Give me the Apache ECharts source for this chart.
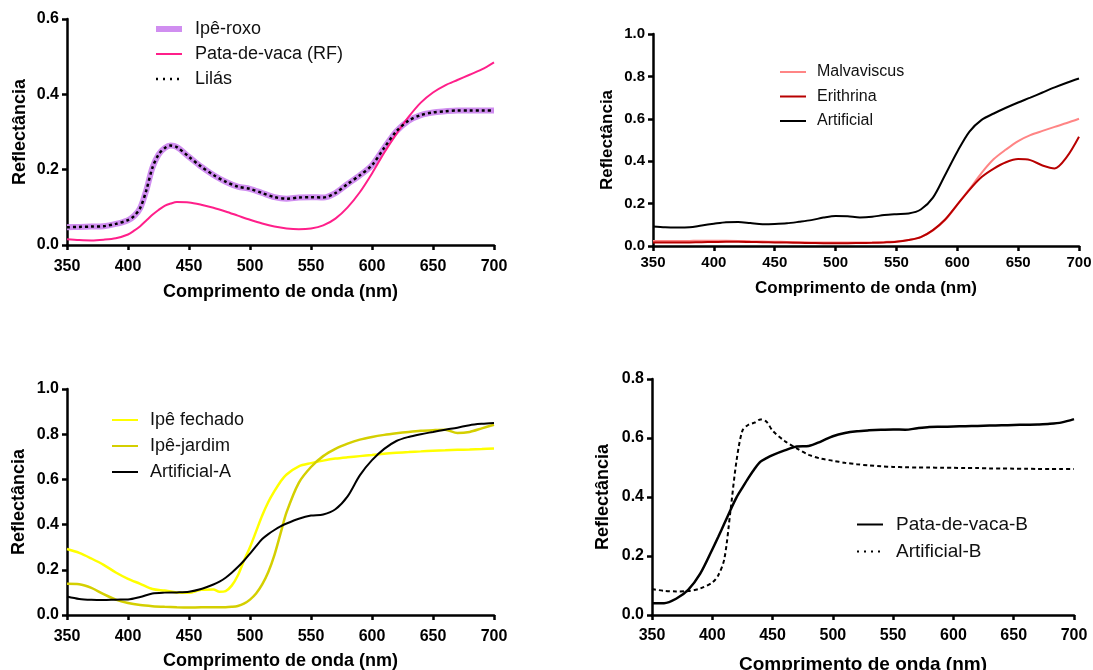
<!DOCTYPE html>
<html><head><meta charset="utf-8">
<script src="https://cdn.jsdelivr.net/npm/echarts@6/dist/echarts.min.js"></script>
<style>html,body{margin:0;padding:0;background:#fff}#c{width:1093px;height:670px}</style>
</head><body><div id="c"></div>
<script>
// ---------- Panel 1 ----------
const wl1 = [350,360,370,380,390,400,405,410,415,420,425,430,435,440,450,460,470,480,490,500,510,520,530,540,550,560,570,580,590,600,610,620,630,640,650,660,670,680,690,700];
const ipeRoxo = [0.047,0.048,0.049,0.050,0.056,0.066,0.077,0.098,0.145,0.205,0.240,0.257,0.264,0.260,0.234,0.208,0.186,0.168,0.155,0.149,0.138,0.127,0.123,0.126,0.127,0.126,0.138,0.162,0.185,0.212,0.258,0.302,0.330,0.345,0.352,0.355,0.357,0.357,0.357,0.357];
const lilas = [0.047,0.048,0.049,0.050,0.056,0.066,0.077,0.098,0.145,0.205,0.240,0.257,0.264,0.260,0.234,0.208,0.186,0.168,0.155,0.149,0.138,0.127,0.123,0.126,0.127,0.126,0.138,0.162,0.185,0.212,0.258,0.302,0.330,0.345,0.352,0.355,0.357,0.357,0.357,0.357];
const pataRF = [0.015,0.013,0.012,0.014,0.018,0.028,0.038,0.050,0.065,0.080,0.093,0.104,0.110,0.114,0.113,0.107,0.099,0.089,0.078,0.067,0.057,0.049,0.044,0.042,0.044,0.052,0.070,0.100,0.140,0.190,0.245,0.295,0.340,0.378,0.405,0.424,0.438,0.452,0.466,0.485];
// ---------- Panel 2 ----------
const wl2 = [350,360,370,380,390,400,410,420,430,440,450,460,470,480,490,500,510,520,530,540,550,560,570,580,590,600,610,620,630,640,650,660,670,680,690,700];
const malvaviscus = [0.024,0.023,0.023,0.024,0.025,0.025,0.025,0.024,0.022,0.021,0.020,0.019,0.018,0.017,0.016,0.016,0.016,0.016,0.017,0.019,0.021,0.028,0.042,0.074,0.122,0.195,0.268,0.345,0.410,0.455,0.495,0.523,0.543,0.562,0.580,0.600];
const erithrina = [0.016,0.016,0.016,0.017,0.018,0.019,0.020,0.020,0.019,0.018,0.017,0.016,0.015,0.014,0.013,0.013,0.013,0.014,0.015,0.017,0.020,0.028,0.042,0.075,0.125,0.195,0.265,0.325,0.365,0.395,0.410,0.405,0.380,0.366,0.420,0.515];
const artificial = [0.092,0.088,0.087,0.088,0.097,0.105,0.112,0.113,0.108,0.103,0.104,0.107,0.114,0.122,0.134,0.142,0.140,0.135,0.138,0.146,0.150,0.153,0.172,0.228,0.335,0.445,0.540,0.595,0.625,0.652,0.677,0.700,0.724,0.748,0.770,0.790];
// ---------- Panel 3 ----------
const wl3 = [350,360,370,380,390,400,410,420,430,440,450,460,470,475,480,485,490,495,500,505,510,515,520,525,530,540,550,560,570,580,590,600,610,620,630,640,650,660,670,680,690,700];
const ipeFechado = [0.292,0.275,0.250,0.222,0.188,0.160,0.138,0.115,0.108,0.100,0.098,0.112,0.113,0.103,0.106,0.130,0.175,0.240,0.300,0.370,0.440,0.500,0.548,0.590,0.622,0.658,0.672,0.683,0.692,0.698,0.703,0.708,0.714,0.718,0.721,0.724,0.727,0.729,0.731,0.732,0.734,0.737];
const ipeJardim = [0.138,0.136,0.120,0.092,0.068,0.053,0.044,0.039,0.036,0.034,0.033,0.034,0.034,0.034,0.034,0.036,0.040,0.050,0.068,0.095,0.135,0.190,0.265,0.360,0.455,0.585,0.655,0.703,0.735,0.758,0.776,0.788,0.797,0.804,0.810,0.815,0.818,0.820,0.805,0.810,0.826,0.842];
const artificialA = [0.082,0.071,0.067,0.066,0.068,0.069,0.080,0.095,0.099,0.100,0.103,0.115,0.135,0.148,0.165,0.187,0.212,0.240,0.272,0.305,0.336,0.358,0.376,0.392,0.405,0.426,0.440,0.445,0.468,0.525,0.618,0.685,0.735,0.770,0.788,0.800,0.810,0.820,0.829,0.840,0.846,0.850];
// ---------- Panel 4 ----------
const wl4 = [350,360,370,380,390,400,405,410,415,420,425,430,435,440,445,450,460,470,480,490,500,510,520,530,540,550,560,570,580,590,600,610,620,630,640,650,660,670,680,690,700];
const pataB = [0.040,0.040,0.055,0.085,0.140,0.222,0.265,0.310,0.355,0.398,0.432,0.465,0.495,0.520,0.532,0.542,0.558,0.571,0.573,0.588,0.606,0.617,0.623,0.626,0.628,0.629,0.628,0.633,0.637,0.638,0.639,0.640,0.641,0.642,0.643,0.644,0.645,0.646,0.648,0.653,0.664];
const artificialB = [0.088,0.082,0.080,0.081,0.090,0.110,0.135,0.190,0.350,0.520,0.625,0.645,0.652,0.663,0.655,0.625,0.590,0.565,0.543,0.530,0.523,0.516,0.511,0.507,0.504,0.502,0.501,0.500,0.500,0.499,0.499,0.498,0.498,0.497,0.497,0.496,0.496,0.495,0.495,0.495,0.495];

const xTicks = {min:350, max:700, interval:50};
const FF = '"Liberation Sans", Arial, sans-serif';

function pairs(xs, ys){ return xs.map((x,i)=>[x, ys[i]]); }

function xAx(gi, tickSize, nameSize, gap, margin){
  return {gridIndex:gi, type:'value', min:xTicks.min, max:xTicks.max, interval:xTicks.interval,
    name:'Comprimento de onda (nm)', nameLocation:'middle', nameGap:gap,
    nameTextStyle:{fontFamily:FF, fontWeight:'bold', fontSize:nameSize, color:'#000'},
    axisLine:{show:true, onZero:false, lineStyle:{color:'#000', width:2.5}},
    axisTick:{show:true, length:5, lineStyle:{color:'#000', width:2.5}},
    axisLabel:{fontFamily:FF, fontWeight:'bold', fontSize:tickSize, color:'#000', margin:margin},
    splitLine:{show:false}};
}
function yAx(gi, max, tickSize, nameSize, gap){
  return {gridIndex:gi, type:'value', min:0, max:max, interval:0.2,
    name:'Reflectância', nameLocation:'middle', nameGap:gap,
    nameTextStyle:{fontFamily:FF, fontWeight:'bold', fontSize:nameSize, color:'#000'},
    axisLine:{show:true, onZero:false, lineStyle:{color:'#000', width:2.5}},
    axisTick:{show:true, length:5, lineStyle:{color:'#000', width:2.5}},
    axisLabel:{fontFamily:FF, fontWeight:'bold', fontSize:tickSize, color:'#000', margin:8,
      formatter:v=>v.toFixed(1)},
    splitLine:{show:false}};
}
function line(name, gi, xs, ys, color, width, type, z){
  return {name:name, type:'line', xAxisIndex:gi, yAxisIndex:gi, data:pairs(xs,ys),
    symbol:'none', smooth:0.3, z:z||2, animation:false,
    lineStyle:{color:color, width:width, type:type||'solid'}, itemStyle:{color:color}};
}
function leg(items, left, top, size, gap, pad){
  return {data:items, orient:'vertical', left:left, top:top, padding:0,
    itemWidth:26, itemHeight:12, itemGap:gap,
    itemStyle:{opacity:0},
    textStyle:{fontFamily:FF, fontSize:size, color:'#111', lineHeight:size, padding:[0,0,0,pad]}};
}
function grid(l, t, w, h){
  return {left:l, top:t, width:w, height:h, containLabel:false, outerBoundsMode:'none'};
}

const option = {
  animation:false,
  backgroundColor:'#fff',
  grid:[grid(67,19,427,226), grid(653,34,426,212), grid(67,389,427,226), grid(652,379,422,236)],
  xAxis:[xAx(0,16,18,38,14), xAx(1,15,17,34,9), xAx(2,16,18,37,14), xAx(3,16,19,40,13)],
  yAxis:[yAx(0,0.6,16,18,38), yAx(1,1.0,15,17,37), yAx(2,1.0,16,18,39), yAx(3,0.8,16,18,40)],
  legend:[
    leg([{name:'Ipê-roxo', lineStyle:{width:6}}, {name:'Pata-de-vaca (RF)', lineStyle:{width:2}},
         {name:'Lilás', lineStyle:{width:2.5, type:[2,5]}}], 153, 20, 18, 7, 8),
    leg(['Malvaviscus','Erithrina','Artificial'], 779, 64, 16, 8.5, 6),
    leg(['Ipê fechado','Ipê-jardim','Artificial-A'], 111, 411, 18, 8, 7),
    leg(['Pata-de-vaca-B', {name:'Artificial-B', lineStyle:{width:2, type:[2,5]}}], 856, 515, 19, 8, 8)
  ],
  series:[
    line('Ipê-roxo',0,wl1,ipeRoxo,'#d08ef0',6,'solid',2),
    line('Pata-de-vaca (RF)',0,wl1,pataRF,'#ff1f8a',2,'solid',3),
    line('Lilás',0,wl1,lilas,'#000',2.5,[3,3],4),
    line('Malvaviscus',1,wl2,malvaviscus,'#ff8585',2,'solid',2),
    line('Erithrina',1,wl2,erithrina,'#b80000',2,'solid',3),
    line('Artificial',1,wl2,artificial,'#000',2,'solid',3),
    line('Ipê fechado',2,wl3,ipeFechado,'#ffff00',2.5,'solid',2),
    line('Ipê-jardim',2,wl3,ipeJardim,'#d4cf00',2.5,'solid',2),
    line('Artificial-A',2,wl3,artificialA,'#000',2,'solid',3),
    line('Pata-de-vaca-B',3,wl4,pataB,'#000',2.5,'solid',3),
    line('Artificial-B',3,wl4,artificialB,'#000',2,[4,3],3)
  ]
};
const chart = echarts.init(document.getElementById('c'), null, {renderer:'canvas'});
chart.setOption(option);
</script>
</body></html>
